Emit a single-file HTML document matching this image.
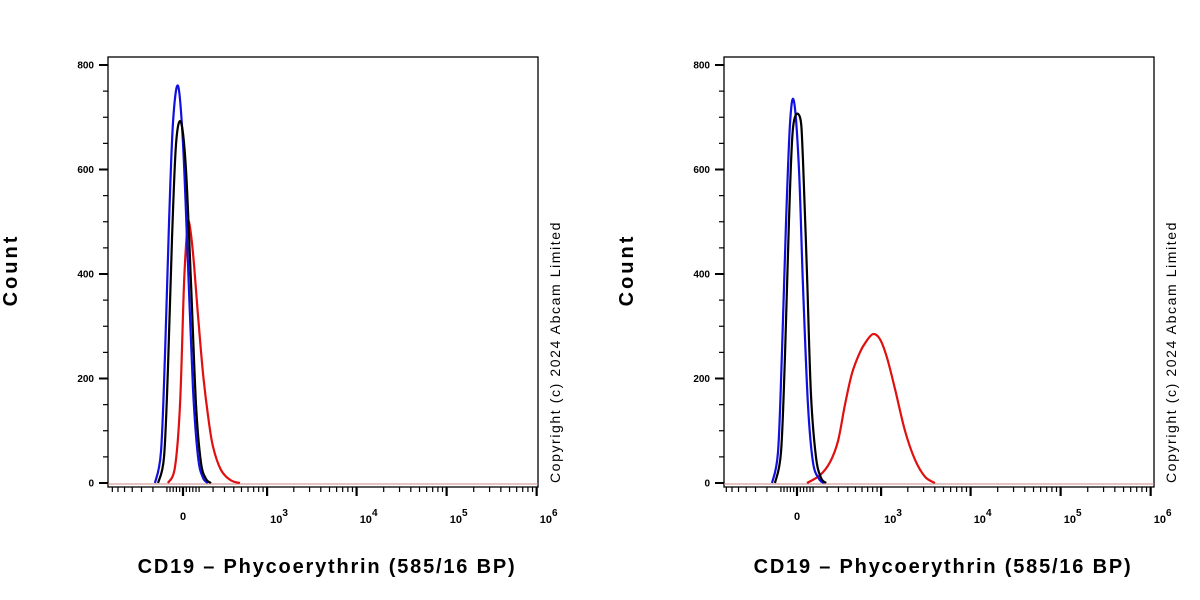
<!DOCTYPE html>
<html><head><meta charset="utf-8"><style>
html,body{margin:0;padding:0;background:#fff;}
svg{display:block;font-family:"Liberation Sans",Arial,sans-serif;}
</style></head><body>
<svg id="chart" width="1200" height="600"></svg>
<script>
const yTicks=[0,200,400,600,800];
const xDecadeLabels=["3","4","5","6"];
const xDecades=[1000,10000,100000,1000000];
// left panel
const leftBlueX=[-184,-140,-112,-86,-61,-30,0,30,61,93,126,161];
const leftBlueY=[0,60,250,500,690,760,650,420,180,50,10,0];
const leftBlackX=[-161,-119,-93,-67,-42,-12,18,49,80,112,147,184];
const leftBlackY=[0,50,220,470,650,690,600,380,150,40,8,0];
const leftRedX=[-93,-49,-18,6,24,36,61,93,126,161,199,267,368,479];
const leftRedY=[0,30,150,380,480,500,440,320,210,130,70,25,5,0];
// right panel
const rightBlueX=[-161,-119,-93,-67,-42,-18,12,36,67,99,140,176];
const rightBlueY=[0,60,250,500,690,730,600,380,150,40,8,0];
const rightBlackX=[-140,-99,-73,-49,-24,18,36,61,86,119,154,192];
const rightBlackY=[0,60,250,500,680,700,620,400,170,50,10,0];
const rightRedX=[61,147,224,295,368,453,566,667,808,972,1166,1437,1860,2400,3110,4020];
const rightRedY=[0,15,40,80,150,210,250,270,285,275,240,180,100,45,12,0];

const NS="http://www.w3.org/2000/svg";
const svg=document.getElementById('chart');
function mk(tag,attrs,parent){const e=document.createElementNS(NS,tag);for(const k in attrs)e.setAttribute(k,attrs[k]);(parent||svg).appendChild(e);return e;}

function panel(name,x0,zeroPx,series){
  const L=x0,R=x0+430,T=57,B=487;
  const y0=483,y800=65;
  const ys=v=>y0-(y0-y800)*v/800;
  const xs=v=>zeroPx+39.1*Math.asinh(v/236);
  const g=mk('g',{});
  
  
  const fr=mk('rect',{x:L,y:T,width:R-L,height:B-T,fill:'none',stroke:'#000','stroke-width':1.3},g);
  
  for(let v=0;v<=800;v+=50){
    const major=v%200===0;
    mk('line',{x1:L-(major?9:5),x2:L,y1:ys(v),y2:ys(v),stroke:'#000','stroke-width':major?2:1.2},g);
  }
  yTicks.forEach(v=>{
    const t=mk('text',{x:L-14,y:ys(v)+3.5,'text-anchor':'end','font-size':10,'font-weight':'bold'},g);
    t.textContent=v;
    
  });
  const minor=[];
  for(let v=-700;v<=-100;v+=100)minor.push(v);
  [-80,-60,-40,-20,20,40,60,80].forEach(v=>minor.push(v));
  for(let v=100;v<=900;v+=100)minor.push(v);
  for(let k=3;k<=5;k++)for(let m=2;m<=9;m++)minor.push(m*Math.pow(10,k));
  minor.forEach(v=>{const x=xs(v);if(x>L&&x<R+2)mk('line',{x1:x,x2:x,y1:B,y2:B+5,stroke:'#000','stroke-width':1.2},g);});
  [0].concat(xDecades).forEach(v=>{const x=Math.min(xs(v),R);mk('line',{x1:x,x2:x,y1:B,y2:B+9,stroke:'#000','stroke-width':2.2},g);});
  const t0=mk('text',{x:xs(0),y:B+33,'text-anchor':'middle','font-size':11,'font-weight':'bold'},g);t0.textContent='0';
  
  xDecades.forEach((v,i)=>{
    const t=mk('text',{x:Math.min(xs(v),R)+12,y:B+36,'text-anchor':'middle','font-size':11,'font-weight':'bold'},g);
    t.innerHTML='10<tspan dy="-7" font-size="10">'+xDecadeLabels[i]+'</tspan>';
    
  });
  mk('line',{x1:L,x2:R,y1:y0+1,y2:y0+1,stroke:'#c88','stroke-width':1},g);
  series.forEach(s=>{
    const pts=s.x.map((v,i)=>[xs(v),ys(s.y[i])]);
    let d='M'+pts[0][0]+','+pts[0][1];
    for(let i=0;i<pts.length-1;i++){
      const p0=pts[i-1]||pts[i],p1=pts[i],p2=pts[i+1],p3=pts[i+2]||p2;
      const c1=[p1[0]+(p2[0]-p0[0])/6,p1[1]+(p2[1]-p0[1])/6];
      const c2=[p2[0]-(p3[0]-p1[0])/6,p2[1]-(p3[1]-p1[1])/6];
      d+='C'+c1+' '+c2+' '+p2;
    }
    const p=mk('path',{d:d,fill:'none',stroke:s.c,'stroke-width':2.2},g);
    
  });
  const yt=mk('text',{transform:'translate('+(x0-91)+',270) rotate(-90)','text-anchor':'middle','font-size':20,'font-weight':'bold','letter-spacing':3},g);
  yt.textContent='Count';
  const xt=mk('text',{x:x0+219,y:573,'text-anchor':'middle','font-size':20,'font-weight':'bold','letter-spacing':1.8},g);
  xt.textContent='CD19 \u2013 Phycoerythrin (585/16 BP)';
  const cp=mk('text',{transform:'translate('+(R+22)+',352) rotate(-90)','text-anchor':'middle','font-size':14,'letter-spacing':1.6},g);
  cp.textContent='Copyright (c) 2024 Abcam Limited';
}
panel('left-histogram',108,183,[
  {x:leftRedX,y:leftRedY,c:'#e01010',n:'red-series'},
  {x:leftBlueX,y:leftBlueY,c:'#1010e0',n:'blue-series'},
  {x:leftBlackX,y:leftBlackY,c:'#000',n:'black-series'}]);
panel('right-histogram',724,797,[
  {x:rightRedX,y:rightRedY,c:'#e01010',n:'red-series'},
  {x:rightBlueX,y:rightBlueY,c:'#1010e0',n:'blue-series'},
  {x:rightBlackX,y:rightBlackY,c:'#000',n:'black-series'}]);
</script>
</body></html>
